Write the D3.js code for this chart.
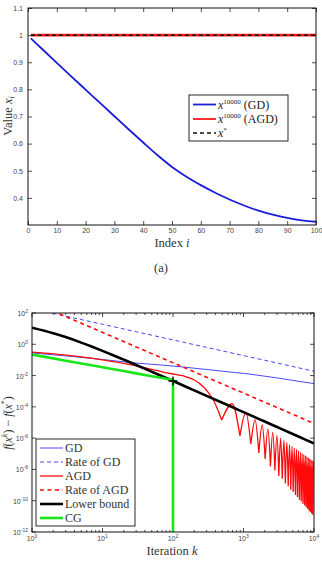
<!DOCTYPE html>
<html><head><meta charset="utf-8">
<script src="https://cdn.jsdelivr.net/npm/d3@7"></script>
<style>body{margin:0;background:#fff} svg{display:block}</style>
</head><body>
<script>
// ---------- (a) data ----------
const idxA   = [1,5,10,15,20,25,30,35,40,45,50,55,60,65,70,75,80,85,90,95,100];
const gdA    = [0.988,0.948,0.898,0.848,0.799,0.750,0.701,0.652,0.604,0.557,0.514,0.478,0.447,0.419,0.394,0.372,0.353,0.338,0.326,0.317,0.312];
const agdA   = [1,1,1,1,1,1,1,1,1,1,1,1,1,1,1,1,1,1,1,1,1];
const starA  = [1,1,1,1,1,1,1,1,1,1,1,1,1,1,1,1,1,1,1,1,1];
const xTicksA = [0,10,20,30,40,50,60,70,80,90,100];
const yTicksA = [0.4,0.5,0.6,0.7,0.8,0.9,1,1.1];

// ---------- (b) data ----------
const kGrid   = [1,2,3,5,7,10,15,20,30,50,70,100,150,200,300,500,700,1000,1500,2000,3000,5000,7000,10000];
const gdB     = [0.2818,0.2138,0.1820,0.1445,0.1259,0.1072,0.0871,0.0759,0.0631,0.0525,0.0468,0.0407,0.0339,0.0295,0.0245,0.0191,0.0162,0.0138,0.0110,0.00912,0.00708,0.00490,0.00389,0.00309];
const rateGD  = [190,95,63.3,38,27.1,19,12.7,9.5,6.33,3.8,2.71,1.9,1.27,0.95,0.633,0.38,0.271,0.19,0.127,0.095,0.0633,0.038,0.0271,0.019];
const rateAGD = [500,130,59.3,22.0,11.5,5.74,2.62,1.50,0.681,0.253,0.132,0.0659,0.030,0.0172,0.00782,0.0029,0.00151,7.57e-4,3.44e-4,1.97e-4,8.99e-5,3.33e-5,1.74e-5,8.7e-6];
const lowerB  = [11.5,5.11,2.88,1.28,0.719,0.380,0.180,0.104,0.0479,0.0177,0.00913,0.00451,0.00202,0.00114,5.08e-4,1.83e-4,9.38e-5,4.59e-5,2.04e-5,1.15e-5,5.11e-6,1.84e-6,9.39e-7,4.6e-7];
const cgK     = [1,2,3,5,7,10,15,20,30,50,70,100,100];
const cgF     = [0.2188,0.1259,0.0891,0.0589,0.0457,0.0339,0.0245,0.0195,0.0138,0.00912,0.00708,0.00525,1e-16];
const agdEarlyK = [1,2,3,5,7,10,15,20,30,50,70,100,130,150,174,200,269,320,373,420,460,491];
const agdEarlyF = [0.3162,0.2455,0.2042,0.1585,0.1288,0.1023,0.0759,0.0603,0.0417,0.0251,0.0174,0.0126,0.0102,0.00871,0.00692,0.00525,0.00195,7.94e-4,2.75e-4,8.91e-5,3.16e-5,1.45e-5];
const agdPeakK = [690,1080,1460,1840,2220,2600,2980,3360,3740,4120,4500,4880,5260,5640,6020,6400,6780,7160,7540,7920,8300,8680,9060,9440,9820];
const agdPeakF = [1.58e-4,4.47e-5,1.45e-5,6.92e-6,3.80e-6,2.29e-6,1.48e-6,1.00e-6,7.08e-7,5.25e-7,3.98e-7,3.09e-7,2.40e-7,1.91e-7,1.55e-7,1.29e-7,1.07e-7,8.91e-8,7.59e-8,6.46e-8,5.62e-8,4.79e-8,4.27e-8,3.72e-8,3.24e-8];
const agdDipK  = [890,1270,1650,2030,2410,2790,3170,3550,3930,4310,4690,5070,5450,5830,6210,6590,6970,7350,7730,8110,8490,8870,9250,9630,10000];
const agdDipF  = [1.41e-6,4.27e-7,1.12e-7,4.6e-8,1.55e-8,8.5e-9,3.8e-9,2.5e-9,1.26e-9,8.5e-10,5.01e-10,3.7e-10,2.29e-10,1.7e-10,1.17e-10,9.2e-11,6.46e-11,5.2e-11,3.8e-11,3.1e-11,2.34e-11,1.9e-11,1.51e-11,1.25e-11,1.26e-8];
const legendB = ["GD","Rate of GD","AGD","Rate of AGD","Lower bound","CG"];
const xTicksB = [1,10,100,1000,10000];
const xExpB   = ["0","1","2","3","4"];
const yTicksB = [1e2,1e0,1e-2,1e-4,1e-6,1e-8,1e-10,1e-12];
const yExpB   = ["2","0","-2","-4","-6","-8","-10","-12"];

const W=322,H=571;
const svg=d3.select("body").append("svg").attr("width",W).attr("height",H)
  .style("font-family","'Liberation Sans',Arial,sans-serif");
const SERIF="'Liberation Serif','Times New Roman',serif";
const tickCol="#444";

// ================= chart (a) =================
const A={l:28,r:316,t:8,b:225};
const xA=d3.scaleLinear().domain([0,100]).range([A.l,A.r]);
const yA=d3.scaleLinear().domain([0.3,1.1]).range([A.b,A.t]);
const ga=svg.append("g");
function styleAxis(g){g.select(".domain").remove();g.selectAll(".tick line").attr("stroke","#222").attr("stroke-width",0.8);
  g.selectAll(".tick text").attr("fill",tickCol).style("font-size","7px").style("font-family","'Liberation Sans',Arial,sans-serif");}
ga.append("g").attr("transform",`translate(0,${A.b})`).call(d3.axisBottom(xA).tickValues(xTicksA).tickSize(-4).tickPadding(3.5).tickFormat(d=>String(d))).call(styleAxis);
ga.append("g").attr("transform",`translate(0,${A.t})`).call(d3.axisTop(xA).tickValues(xTicksA).tickSize(-4).tickFormat("")).call(styleAxis);
ga.append("g").attr("transform",`translate(${A.l},0)`).call(d3.axisLeft(yA).tickValues(yTicksA).tickSize(-4).tickPadding(5).tickFormat(d=>String(d))).call(styleAxis);
ga.append("g").attr("transform",`translate(${A.r},0)`).call(d3.axisRight(yA).tickValues(yTicksA).tickSize(-4).tickFormat("")).call(styleAxis);

ga.append("clipPath").attr("id","clipA").append("rect").attr("x",A.l).attr("y",A.t).attr("width",A.r-A.l).attr("height",A.b-A.t);
const pa=ga.append("g").attr("clip-path","url(#clipA)");
const lineA=(vals)=>d3.line().x((d,i)=>xA(idxA[i])).y(d=>yA(d)).curve(d3.curveMonotoneX)(vals);
pa.append("path").attr("d",lineA(gdA)).attr("fill","none").attr("stroke","#1c1cdc").attr("stroke-width",1.8);
pa.append("path").attr("d",lineA(agdA)).attr("fill","none").attr("stroke","#ff1a1a").attr("stroke-width",2.6);
pa.append("path").attr("d",lineA(starA)).attr("fill","none").attr("stroke","#111").attr("stroke-width",1.5).attr("stroke-dasharray","4,3");
ga.append("rect").attr("x",A.l).attr("y",A.t).attr("width",A.r-A.l).attr("height",A.b-A.t).attr("fill","none").attr("stroke","#111").attr("stroke-width",1);

// legend (a)
const la=ga.append("g");
la.append("rect").attr("x",189).attr("y",95).attr("width",99).attr("height",46).attr("fill","#fff").attr("stroke","#111").attr("stroke-width",0.9);
const legA=[{c:"#1c1cdc",w:1.8,d:null,sup:"10000",t:" (GD)",y:104.5},{c:"#ff1a1a",w:1.8,d:null,sup:"10000",t:" (AGD)",y:119},{c:"#111",w:1.5,d:"4,3",sup:"*",t:"",y:133}];
legA.forEach(e=>{
  la.append("line").attr("x1",193).attr("x2",216).attr("y1",e.y).attr("y2",e.y).attr("stroke",e.c).attr("stroke-width",e.w).attr("stroke-dasharray",e.d);
  const t=la.append("text").attr("x",218).attr("y",e.y+4).style("font-family",SERIF).style("font-size","12px").attr("fill","#222");
  t.append("tspan").text("x").style("font-style","italic");
  t.append("tspan").text(e.sup).attr("dy",-5).style("font-size","7px");
  t.append("tspan").text(e.t).attr("dy",5);
});
// labels (a)
ga.append("text").attr("x",172).attr("y",247).attr("text-anchor","middle").style("font-family",SERIF).style("font-size","12.5px").attr("fill","#333")
  .call(t=>{t.append("tspan").text("Index ");t.append("tspan").text("i").style("font-style","italic");});
ga.append("text").attr("transform",`translate(12,116) rotate(-90)`).attr("text-anchor","middle").style("font-family",SERIF).style("font-size","12.5px").attr("fill","#333")
  .call(t=>{t.append("tspan").text("Value ");t.append("tspan").text("x").style("font-style","italic");t.append("tspan").text("i").style("font-style","italic").style("font-size","8px").attr("dy",2);});
svg.append("text").attr("x",161).attr("y",272).attr("text-anchor","middle").style("font-family",SERIF).style("font-size","12.5px").attr("fill","#333").text("(a)");

// ================= chart (b) =================
const B={l:32,r:314,t:313,b:532};
const xB=d3.scaleLog().domain([1,1e4]).range([B.l,B.r]);
const yB=d3.scaleLog().domain([1e-12,1e2]).range([B.b,B.t]);
const gb=svg.append("g");
const minorX=[];
for(let e=0;e<4;e++)for(let m=2;m<=9;m++)minorX.push(m*Math.pow(10,e));
const tickG=gb.append("g").attr("stroke","#222").attr("stroke-width",0.8);
xTicksB.forEach(v=>{tickG.append("line").attr("x1",xB(v)).attr("x2",xB(v)).attr("y1",B.b).attr("y2",B.b-4);
  tickG.append("line").attr("x1",xB(v)).attr("x2",xB(v)).attr("y1",B.t).attr("y2",B.t+4);});
minorX.forEach(v=>{tickG.append("line").attr("x1",xB(v)).attr("x2",xB(v)).attr("y1",B.b).attr("y2",B.b-2);
  tickG.append("line").attr("x1",xB(v)).attr("x2",xB(v)).attr("y1",B.t).attr("y2",B.t+2);});
yTicksB.forEach(v=>{tickG.append("line").attr("y1",yB(v)).attr("y2",yB(v)).attr("x1",B.l).attr("x2",B.l+4);
  tickG.append("line").attr("y1",yB(v)).attr("y2",yB(v)).attr("x1",B.r).attr("x2",B.r-4);});
xTicksB.forEach((v,i)=>{const t=gb.append("text").attr("x",xB(v)).attr("y",541).attr("text-anchor","middle").attr("fill",tickCol).style("font-size","7px");
  t.append("tspan").text("10");t.append("tspan").text(xExpB[i]).attr("dy",-3).style("font-size","5px");});
yTicksB.forEach((v,i)=>{const t=gb.append("text").attr("x",28).attr("y",yB(v)+3).attr("text-anchor","end").attr("fill",tickCol).style("font-size","7px");
  t.append("tspan").text("10");t.append("tspan").text(yExpB[i]).attr("dy",-3).style("font-size","5px");});

gb.append("clipPath").attr("id","clipB").append("rect").attr("x",B.l).attr("y",B.t).attr("width",B.r-B.l).attr("height",B.b-B.t);
const pb=gb.append("g").attr("clip-path","url(#clipB)");
const lineB=(ks,vs,curve)=>d3.line().x((d,i)=>xB(ks[i])).y(d=>yB(d)).curve(curve||d3.curveMonotoneX)(vs);
const cGD="#3434ff",cR="#ff0a0a",cG="#19e619";
pb.append("path").attr("d",lineB(kGrid,gdB)).attr("fill","none").attr("stroke",cGD).attr("stroke-width",0.9);
pb.append("path").attr("d",lineB(kGrid,rateGD)).attr("fill","none").attr("stroke","#4646ff").attr("stroke-width",1).attr("stroke-dasharray","4,3");
let dAGD=lineB(agdEarlyK,agdEarlyF);
const dips=[[agdEarlyK[agdEarlyK.length-1],agdEarlyF[agdEarlyF.length-1]]].concat(agdDipK.map((k,i)=>[k,agdDipF[i]]));
const arcLine=d3.line().x(d=>xB(d[0])).y(d=>yB(d[1])).curve(d3.curveMonotoneX);
agdPeakK.forEach((k,i)=>{dAGD+=arcLine([dips[i],[k,agdPeakF[i]],dips[i+1]]);});
pb.append("path").attr("d",dAGD).attr("fill","none").attr("stroke",cR).attr("stroke-width",1.3).attr("stroke-linejoin","round");
pb.append("path").attr("d",lineB(kGrid,rateAGD)).attr("fill","none").attr("stroke",cR).attr("stroke-width",1.6).attr("stroke-dasharray","4,3.5");
pb.append("path").attr("d",lineB(kGrid,lowerB)).attr("fill","none").attr("stroke","#000").attr("stroke-width",2.6);
pb.append("path").attr("d",lineB(cgK,cgF,d3.curveLinear)).attr("fill","none").attr("stroke",cG).attr("stroke-width",2.6);
const pk=100,pv=lowerB[kGrid.indexOf(100)];
pb.append("path").attr("d",`M${xB(pk)-4.5},${yB(pv)}h9M${xB(pk)},${yB(pv)-4.5}v9`).attr("stroke","#000").attr("stroke-width",1.4);
gb.append("rect").attr("x",B.l).attr("y",B.t).attr("width",B.r-B.l).attr("height",B.b-B.t).attr("fill","none").attr("stroke","#111").attr("stroke-width",1);

// legend (b)
const lb=gb.append("g");
lb.append("rect").attr("x",36).attr("y",439).attr("width",99).attr("height",87).attr("fill","#fff").attr("stroke","#111").attr("stroke-width",0.9);
const legStyles=[{c:cGD,w:0.9,d:null},{c:"#4646ff",w:1,d:"4,3"},{c:cR,w:1.3,d:null},{c:cR,w:1.6,d:"4,3.5"},{c:"#000",w:2.6,d:null},{c:cG,w:2.6,d:null}];
legendB.forEach((name,i)=>{const y=448+i*14;const s=legStyles[i];
  lb.append("line").attr("x1",40).attr("x2",63).attr("y1",y).attr("y2",y).attr("stroke",s.c).attr("stroke-width",s.w).attr("stroke-dasharray",s.d);
  lb.append("text").attr("x",65).attr("y",y+4).style("font-family",SERIF).style("font-size","12px").attr("fill","#333").text(name);});

// labels (b)
gb.append("text").attr("x",172).attr("y",555).attr("text-anchor","middle").style("font-family",SERIF).style("font-size","12.5px").attr("fill","#333")
  .call(t=>{t.append("tspan").text("Iteration ");t.append("tspan").text("k").style("font-style","italic");});
gb.append("text").attr("transform",`translate(12,423) rotate(-90)`).attr("text-anchor","middle").style("font-family",SERIF).style("font-size","12px").attr("fill","#333")
  .call(t=>{t.append("tspan").text("f").style("font-style","italic");t.append("tspan").text("(");
    t.append("tspan").text("x").style("font-style","italic");t.append("tspan").text("k").style("font-style","italic").style("font-size","8px").attr("dy",-5);
    t.append("tspan").text(") − ").attr("dy",5);t.append("tspan").text("f").style("font-style","italic");t.append("tspan").text("(");
    t.append("tspan").text("x").style("font-style","italic");t.append("tspan").text("*").style("font-size","8px").attr("dy",-5);
    t.append("tspan").text(")").attr("dy",5);});
svg.append("text").attr("x",168).attr("y",580).attr("text-anchor","middle").style("font-family",SERIF).style("font-size","12.5px").attr("fill","#333").text("(b)");
</script>
</body></html>
